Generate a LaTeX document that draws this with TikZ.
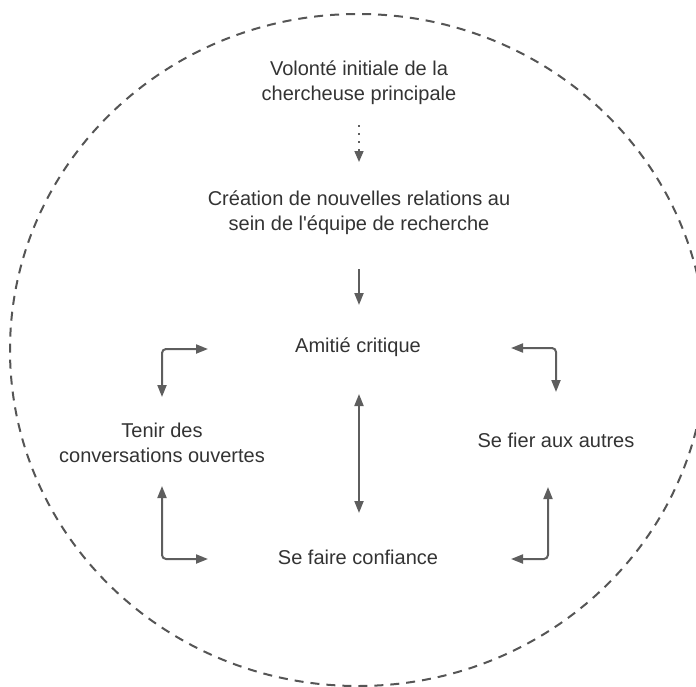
\documentclass[tikz,border=0pt]{standalone}
\usepackage{fontspec}
\setmainfont{Liberation Sans}
\usetikzlibrary{arrows.meta}
\definecolor{txt}{HTML}{333333}
\definecolor{arr}{HTML}{5E5E5E}
\definecolor{ring}{HTML}{555555}
\begin{document}
\begin{tikzpicture}[x=1pt,y=-1pt,
  lbl/.style={text=txt,align=center,inner sep=0pt,font=\fontsize{20}{25}\selectfont},
  conn/.style={draw=arr,line width=2pt,rounded corners=4pt,
    arrows={-Triangle[length=12pt,width=9pt]}},
  both/.style={conn,arrows={Triangle[length=12pt,width=9pt]-Triangle[length=12pt,width=9pt]}},
  dotline/.style={draw=arr,line width=1.6pt,dash pattern=on 2pt off 6pt,
    arrows={-Triangle[length=11pt,width=9pt]}}]
\useasboundingbox (0,0) rectangle (696,686);
\clip (0,0) rectangle (696,686);
\draw[ring,line width=2pt,dash pattern=on 9pt off 7pt] (358,350) ellipse [x radius=348,y radius=336];

\node[lbl] (vol) at (359,82.5) {Volonté initiale de la\\chercheuse principale};
\node[lbl] (cre) at (359,213) {Création de nouvelles relations au\\sein de l\textquotesingle équipe de recherche};
\node[lbl] (ami) at (358,347) {Amitié critique};
\node[lbl] (ten) at (162,442.5) {Tenir des\\conversations ouvertes};
\node[lbl] (fie) at (556,440) {Se fier aux autres};
\node[lbl] (con) at (358,557) {Se faire confiance};

\coordinate (d1) at (359,125);
\coordinate (d2) at (359,162);
\coordinate (s1) at (359,269);
\coordinate (s2) at (359,305);
\coordinate (v1) at (359,394);
\coordinate (v2) at (359,513);
\coordinate (tl1) at (208,349);
\coordinate (tl2) at (162,397);
\coordinate (tr1) at (511,348);
\coordinate (tr2) at (556,392);
\coordinate (bl1) at (162,486);
\coordinate (bl2) at (208,559);
\coordinate (br1) at (548,487);
\coordinate (br2) at (511,559);

\draw[dotline] (d1) -- (d2);
\draw[conn] (s1) -- (s2);
\draw[both] (v1) -- (v2);
\draw[both] (tl1) -| (tl2);
\draw[both] (tr1) -| (tr2);
\draw[both] (bl1) |- (bl2);
\draw[both] (br1) |- (br2);
\end{tikzpicture}
\end{document}
